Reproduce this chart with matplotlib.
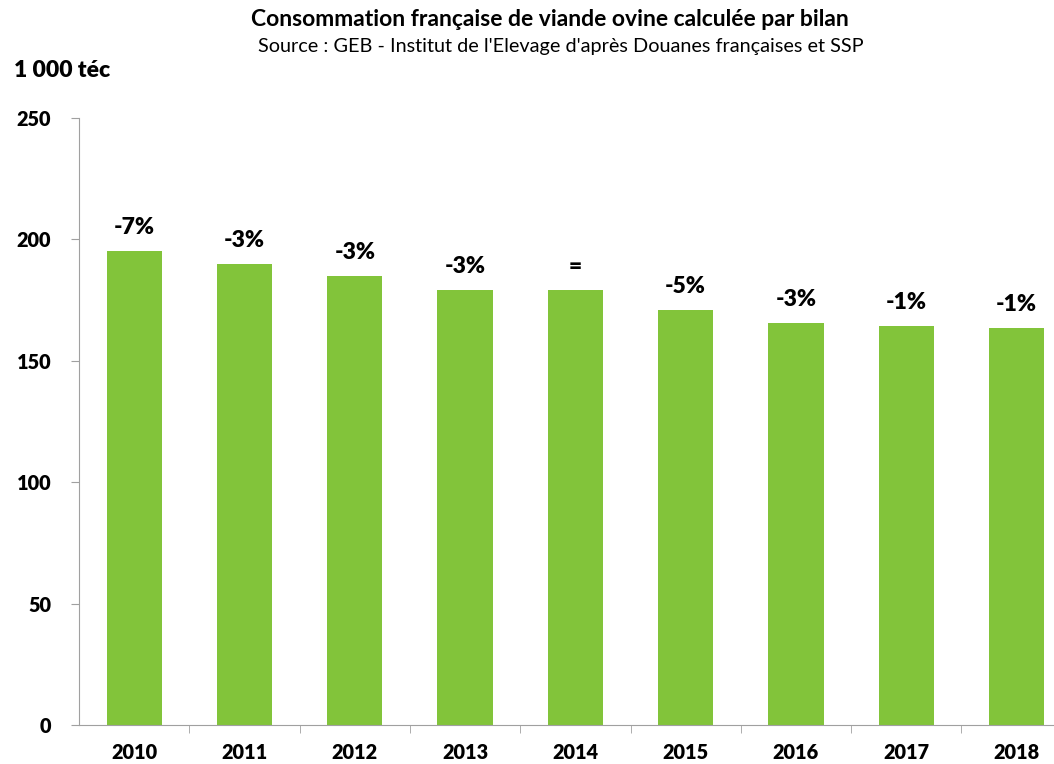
import matplotlib.pyplot as plt
import numpy as np

# data
years = ["2010", "2011", "2012", "2013", "2014", "2015", "2016", "2017", "2018"]
consumption = [195.2, 189.9, 184.9, 179.2, 179.2, 170.9, 165.6, 164.3, 163.5]
variations = ["-7%", "-3%", "-3%", "-3%", "=", "-5%", "-3%", "-1%", "-1%"]

plt.rcParams['font.family'] = ['Lato', 'DejaVu Sans']
plt.rcParams['font.weight'] = 'heavy'

fig = plt.figure(figsize=(10.54, 7.64), dpi=100)
# axes placed in pixels: left spine at x=79, zero line at y=725, 250 at y=118
ax = fig.add_axes([79 / 1054, 1 - 725 / 764, 1 - 79 / 1054, (725 - 118) / 764])

x = np.arange(len(years))
ax.bar(x, consumption, width=0.5, color="#82c43a", zorder=2)

# variation labels above each bar
for xi, val, lab in zip(x, consumption, variations):
    ax.annotate(lab, (xi, val), xytext=(0, 17), textcoords="offset points",
                ha="center", va="center", fontsize=16.5, fontweight="heavy")

ax.set_ylim(0, 250)
ax.set_yticks([0, 50, 100, 150, 200, 250])
ax.set_xlim(-0.5, -0.5 + 975 / 110.3)
ax.set_xticks(x)
ax.set_xticklabels(years)
# minor ticks at category boundaries, like the original
ax.set_xticks(x[:-1] + 0.5, minor=True)
ax.tick_params(axis="x", which="major", length=0, pad=13, labelsize=14.3)
ax.tick_params(axis="x", which="minor", length=6, color="#a0a0a0", direction="out")
ax.tick_params(axis="y", length=6, color="#a0a0a0", direction="out", pad=14, labelsize=14.3)

for side in ["top", "right"]:
    ax.spines[side].set_visible(False)
for side in ["left", "bottom"]:
    ax.spines[side].set_color("#a0a0a0")

fig.text(0.522, 0.974, "Consommation française de viande ovine calculée par bilan",
         ha="center", va="center", fontsize=16.5, fontweight="bold")
fig.text(0.532, 0.939, "Source : GEB - Institut de l'Elevage d'après Douanes françaises et SSP",
         ha="center", va="center", fontsize=14.3, fontweight="normal")
fig.text(0.013, 0.908, "1 000 téc", ha="left", va="center", fontsize=16.5, fontweight="heavy")

fig.savefig("out.png", dpi=100)
